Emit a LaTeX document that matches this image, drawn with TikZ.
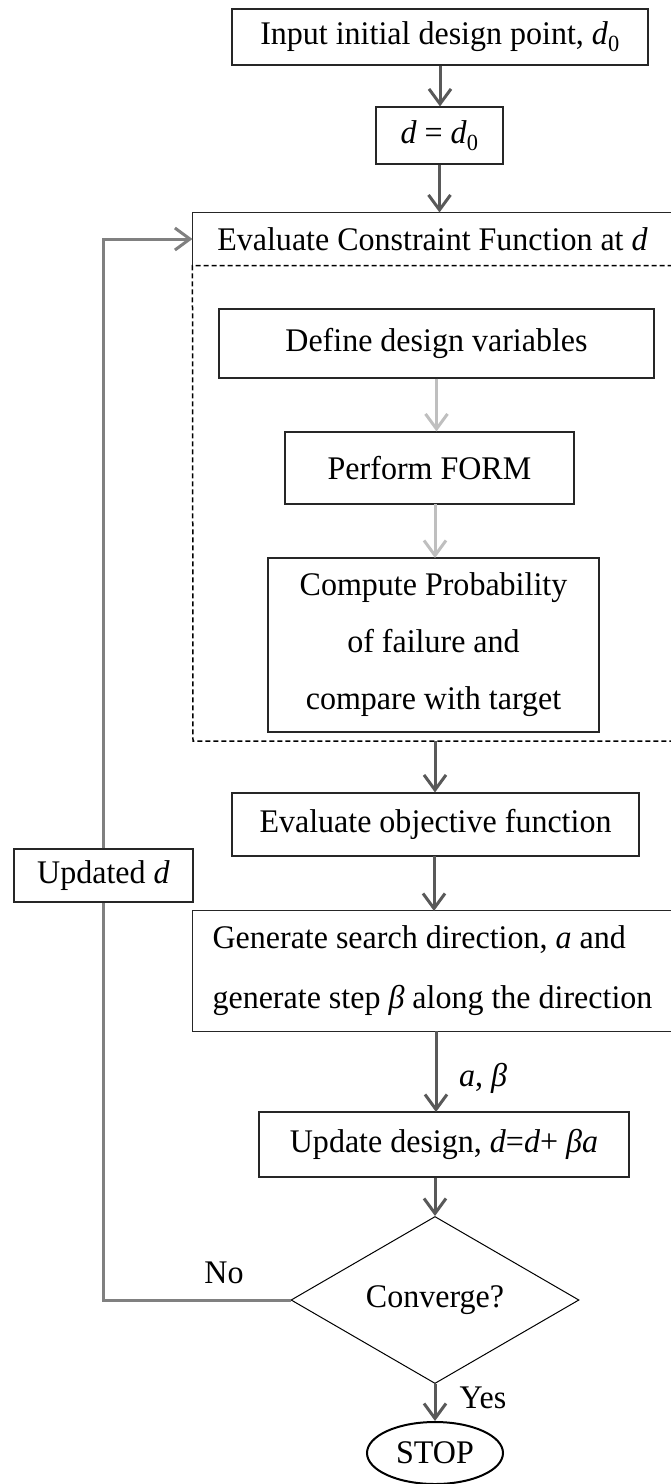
\documentclass[tikz,border=0pt]{standalone}
\usepackage{fontspec}
\setmainfont{Liberation Serif}[FakeStretch=0.97]
\usetikzlibrary{arrows.meta,shapes.geometric}
\begin{document}
\begin{tikzpicture}[x=1pt,y=-1pt,
  txt/.style={font=\fontsize{33}{57}\selectfont},
  box/.style={draw=black!85, line width=1.1pt, rectangle, inner sep=0pt, align=center, txt},
  border/.style={draw=black!85, line width=1.1pt},
  tip/.style={-{Straight Barb[length=15pt,width=22pt]}},
  dk/.style={draw=black!65, line width=3pt, tip},
  lt/.style={draw=black!25, line width=3pt, tip},
  fb/.style={draw=black!50, line width=3pt},
  dsh/.style={draw=black, line width=1.5pt, dash pattern=on 5pt off 3pt},
  lbl/.style={txt, inner sep=0pt}
]
\useasboundingbox (0,0) rectangle (670,1484);

% nodes
\node[box, minimum width=416pt, minimum height=56pt] (in) at (440,37) {Input initial design point, \textit{d}\textsubscript{0}};
\node[box, minimum width=127pt, minimum height=57pt] (dz) at (439.5,135.5) {\textit{d} = \textit{d}\textsubscript{0}};
\node[box, draw=none, minimum width=479pt, minimum height=52pt] (ev) at (432.5,239) {Evaluate Constraint Function at \textit{d}};
\draw[border] (ev.south west) |- (ev.north east);

\coordinate (dbl) at (193,741);
\coordinate (dbr) at (672,741);
\coordinate (dbo) at (435,741);
\draw[dsh] (ev.south east) -- (ev.south west) -- (dbl) -- (dbr);

\node[box, minimum width=435pt, minimum height=69pt] (dv) at (436.5,343.5) {Define design variables};
\node[box, minimum width=289pt, minimum height=72pt] (pf) at (429.5,468) {Perform FORM};
\node[box, minimum width=331pt, minimum height=174pt] (cp) at (433.5,645) {Compute Probability\\of failure and\\compare with target};

\node[box, minimum width=407pt, minimum height=63pt] (eo) at (435.5,824.5) {Evaluate objective function};
\node[box, fill=white, minimum width=179pt, minimum height=53pt] (ud) at (103.5,875.5) {Updated \textit{d}};
\node[box, draw=none, align=left, font=\fontsize{33}{60}\selectfont, minimum width=479pt, minimum height=120pt] (gs) at (432.5,971) {Generate search direction, \textit{a} and\\generate step \textit{β} along the direction};
\draw[border] (gs.north east) -- (gs.north west) -- (gs.south west) -- (gs.south east);

\node[box, minimum width=370pt, minimum height=65pt] (up) at (444,1144.5) {Update design, \textit{d}=\textit{d}+ \textit{βa}};
\node[diamond, draw=black, line width=1pt, inner sep=0pt, minimum width=288pt, minimum height=134pt, txt] (cv) at (435,1300) {Converge?};
\node[ellipse, draw=black, line width=2pt, inner sep=0pt, minimum width=136pt, minimum height=62pt, txt] (st) at (435,1453) {STOP};

% labels
\node[lbl] (lab) at (483,1078) {\textit{a}, \textit{β}};
\node[lbl] (lyes) at (483,1398) {Yes};
\node[lbl] (lno) at (224,1273) {No};

% connectors
\draw[dk] (in.south) -- (in.south |- dz.north);
\draw[dk] (dz.south) -- (dz.south |- ev.north);
\draw[lt] (dv.south) -- (dv.south |- pf.north);
\draw[lt] (435,504) -- (435,558);
\draw[dk] (dbo) -- (dbo |- eo.north);
\draw[dk] (434,856) -- (434,911);
\draw[dk] (436,1031) -- (436,1112);
\draw[dk] (cv.north |- up.south) -- (cv.north);
\draw[dk] (cv.south) -- (st.north);

% feedback loop
\draw[fb] (cv.west) -| (ud.south);
\draw[fb, tip] (ud.north) |- (ev.west);
\end{tikzpicture}
\end{document}
